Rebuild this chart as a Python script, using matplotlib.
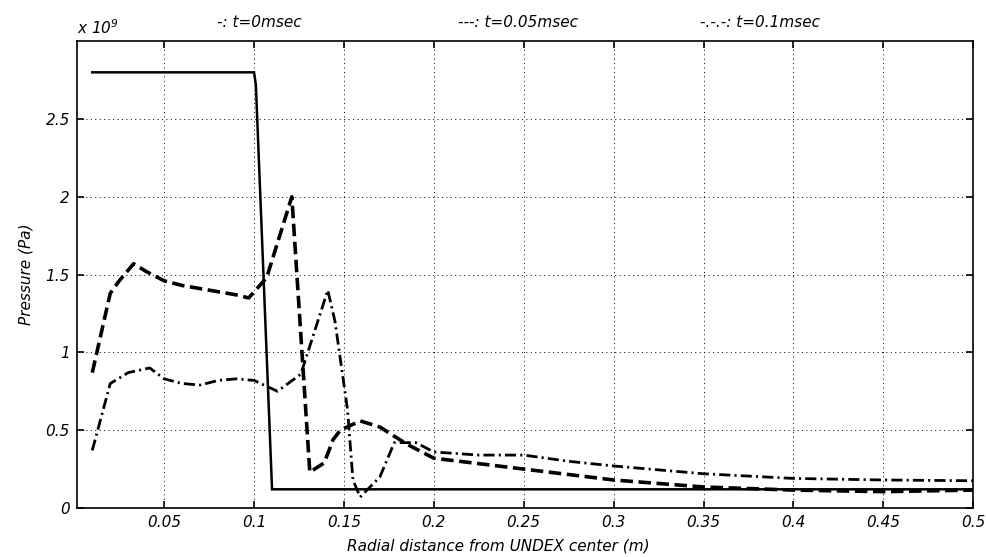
import numpy as np
import matplotlib
matplotlib.use("Agg")
import matplotlib.pyplot as plt

plt.rcParams['font.family'] = ['DejaVu Sans']
plt.rcParams['font.style'] = 'italic'
plt.rcParams['lines.scale_dashes'] = False

# radial distance (m) and pressure (x1e9 Pa)
r_t0 = [0.01, 0.10, 0.101, 0.11, 0.50]
p_t0 = [2.80, 2.80, 2.72, 0.12, 0.12]

r_t005 = [0.01, 0.02, 0.025, 0.033, 0.04, 0.05, 0.06, 0.07, 0.08, 0.09, 0.097,
          0.107, 0.121, 0.131, 0.139, 0.144, 0.148, 0.159, 0.17, 0.185, 0.20,
          0.25, 0.30, 0.35, 0.40, 0.45, 0.50]
p_t005 = [0.87, 1.38, 1.46, 1.57, 1.52, 1.46, 1.43, 1.41, 1.39, 1.37, 1.35,
          1.48, 2.00, 0.23, 0.29, 0.44, 0.50, 0.56, 0.52, 0.41, 0.32,
          0.25, 0.18, 0.135, 0.115, 0.105, 0.115]

r_t01 = [0.01, 0.02, 0.03, 0.042, 0.05, 0.06, 0.07, 0.08, 0.09, 0.10, 0.113,
         0.126, 0.141, 0.145, 0.152, 0.155, 0.159, 0.17, 0.178, 0.19, 0.20,
         0.225, 0.25, 0.275, 0.30, 0.35, 0.40, 0.45, 0.50]
p_t01 = [0.37, 0.80, 0.87, 0.90, 0.83, 0.80, 0.79, 0.82, 0.83, 0.82, 0.75,
         0.86, 1.40, 1.20, 0.63, 0.18, 0.07, 0.20, 0.42, 0.42, 0.36,
         0.34, 0.34, 0.30, 0.27, 0.22, 0.19, 0.18, 0.175]

xticks = [0.05, 0.1, 0.15, 0.2, 0.25, 0.3, 0.35, 0.4, 0.45, 0.5]
yticks = [0, 0.5, 1, 1.5, 2, 2.5]

fig = plt.figure(figsize=(9.87, 5.57), dpi=100)
ax = fig.add_axes([0.078, 0.088, 0.908, 0.838])

ax.plot(r_t0, p_t0, color='black', lw=1.8, solid_joinstyle='miter')
ax.plot(r_t005, p_t005, color='black', lw=2.6, dashes=(9, 4))
ax.plot(r_t01, p_t01, color='black', lw=2.0, dashes=(8, 3, 1.5, 3))

ax.set_xlim(0.0015, 0.5)
ax.set_ylim(0, 3)
ax.set_xticks(xticks)
ax.set_xticklabels(['%g' % v for v in xticks])
ax.set_yticks(yticks)
ax.set_yticklabels(['%g' % v for v in yticks])
ax.tick_params(direction='in', top=True, right=True, length=5, width=1.2,
               labelsize=11, pad=5)
ax.grid(True, color='black', linestyle=(0, (0.7, 2.5)), linewidth=0.7)
for s in ax.spines.values():
    s.set_linewidth(1.2)

ax.set_xlabel('Radial distance from UNDEX center (m)', fontsize=11)
ax.xaxis.set_label_coords(0.47, -0.065)
ax.set_ylabel('Pressure (Pa)', fontsize=11)
ax.yaxis.set_label_coords(-0.048, 0.5)

fig.text(0.078, 0.95, r'x 10$^{9}$', fontsize=11, va='center')
fig.text(0.263, 0.96, '-: t=0msec', fontsize=11, ha='center', va='center')
fig.text(0.525, 0.96, '---: t=0.05msec', fontsize=11, ha='center', va='center')
fig.text(0.77, 0.96, '-.-.-: t=0.1msec', fontsize=11, ha='center', va='center')

fig.savefig('out.png', dpi=100)
